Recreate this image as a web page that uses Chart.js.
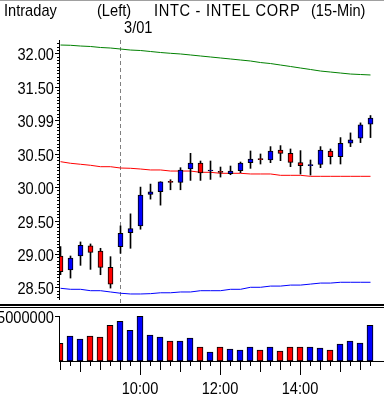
<!DOCTYPE html>
<html>
<head>
<meta charset="utf-8">
<script src="https://cdn.jsdelivr.net/npm/chart.js@4.4.1/dist/chart.umd.min.js"></script>
<style>
  html, body { margin: 0; padding: 0; background: #fff; }
  #wrap { position: relative; width: 384px; height: 397px; overflow: hidden; }
  #wrap canvas { position: absolute; left: 0; top: 0; }
</style>
</head>
<body>
<div id="wrap">
  <canvas id="js--price" width="384" height="397"></canvas>
  <canvas id="js--volume" width="384" height="397"></canvas>
</div>
<script>
// 15-min bars, last 6 of 2/28 then 3/01
const times = ['14:30','14:45','15:00','15:15','15:30','15:45',
  '9:30','9:45','10:00','10:15','10:30','10:45','11:00','11:15','11:30','11:45',
  '12:00','12:15','12:30','12:45','13:00','13:15','13:30','13:45',
  '14:00','14:15','14:30','14:45','15:00','15:15','15:30','15:45'];
const newDayIndex = 6;
const newDayLabel = '3/01';

const open  = [28.97, 28.76, 28.97, 29.12, 29.045, 28.80, 29.11, 29.32, 29.42, 29.89, 29.93, 30.075, 30.07, 30.27, 30.36, 30.24,
               30.225, 30.20, 30.245, 30.365, 30.415, 30.405, 30.555, 30.505, 30.365, 30.32, 30.34, 30.54, 30.455, 30.655, 30.73, 30.94];
const high  = [29.11, 28.97, 29.18, 29.15, 29.085, 28.96, 29.42, 29.60, 30.00, 30.045, 30.08, 30.11, 30.29, 30.505, 30.39, 30.39,
               30.30, 30.315, 30.375, 30.54, 30.495, 30.605, 30.62, 30.57, 30.545, 30.405, 30.605, 30.57, 30.74, 30.81, 30.96, 31.07];
const low   = [28.69, 28.64, 28.83, 28.77, 28.69, 28.49, 29.01, 29.085, 29.37, 29.82, 29.73, 29.96, 29.96, 30.10, 30.10, 30.115,
               30.15, 30.185, 30.215, 30.28, 30.345, 30.365, 30.395, 30.305, 30.195, 30.18, 30.29, 30.345, 30.345, 30.605, 30.665, 30.74];
const close = [28.735, 28.94, 29.13, 29.025, 28.80, 28.55, 29.31, 29.38, 29.88, 29.93, 30.08, 30.07, 30.255, 30.36, 30.21, 30.245,
               30.22, 30.24, 30.36, 30.42, 30.41, 30.54, 30.505, 30.37, 30.32, 30.325, 30.555, 30.455, 30.655, 30.705, 30.93, 31.03];

const volume = [1950000, 2760000, 2430000, 2760000, 2650000, 3970000, 4420000, 3420000, 4970000, 2870000, 2650000, 2210000,
                2210000, 2540000, 1550000, 990000, 1550000, 1320000, 1210000, 1550000, 1210000, 1550000, 1100000, 1550000,
                1550000, 1550000, 1430000, 1210000, 1880000, 2210000, 1990000, 3970000];

// bands
const upper  = [32.124, 32.12, 32.109, 32.102, 32.087, 32.079, 32.064, 32.049, 32.042, 32.027, 32.012, 32.00, 31.99, 31.975, 31.96, 31.945,
                31.93, 31.915, 31.90, 31.885, 31.862, 31.847, 31.825, 31.803, 31.78, 31.758, 31.735, 31.72, 31.705, 31.69, 31.683, 31.676];
const middle = [30.38, 30.356, 30.341, 30.326, 30.305, 30.305, 30.285, 30.281, 30.27, 30.256, 30.256, 30.24, 30.24, 30.24, 30.221, 30.221,
                30.206, 30.206, 30.206, 30.196, 30.196, 30.196, 30.176, 30.176, 30.176, 30.161, 30.161, 30.161, 30.161, 30.161, 30.161, 30.161];
const lower  = [28.487, 28.472, 28.472, 28.451, 28.451, 28.432, 28.413, 28.402, 28.402, 28.407, 28.42, 28.42, 28.432, 28.432, 28.451, 28.451,
                28.451, 28.472, 28.472, 28.502, 28.502, 28.52, 28.52, 28.535, 28.535, 28.55, 28.565, 28.565, 28.577, 28.577, 28.577, 28.577];

const priceTicks = [32.0, 31.5, 31.0, 30.5, 30.0, 29.5, 29.0, 28.5];
const priceTickLabels = ['32.00', '31.50', '30.99', '30.50', '30.00', '29.50', '29.00', '28.50'];
const volumeTicks = [5000000];
const volumeTickLabels = ['5000000'];

const FONT = "17px 'Liberation Sans', Arial, sans-serif";
const RED = '#ff0000', BLUE = '#0000ff', GREEN = '#008000';
const upColor = i => close[i] >= open[i] ? BLUE : RED;

// narrow text, like the terminal's font
function text(ctx, str, x, y, align, baseline, spacing) {
  ctx.save();
  ctx.font = FONT;
  ctx.fillStyle = '#000';
  ctx.textAlign = align || 'left';
  ctx.textBaseline = baseline || 'alphabetic';
  if (spacing) ctx.letterSpacing = spacing;
  ctx.translate(x, y);
  ctx.scale(0.86, 1);
  ctx.fillText(str, 0, 0);
  ctx.restore();
}

// 10px per bar, first bar sits on the axis
const priceX = { type: 'linear', min: -0.05, max: 32.35, offset: false, display: false, grid: { offset: false } };
const volumeX = { type: 'linear', min: 0, max: 32.4, offset: false, display: false, grid: { offset: false } };

//--------------------------------------------------
// price panel

const pricePanel = {
  id: 'pricePanel',
  beforeDatasetsDraw(chart) {
    const ctx = chart.ctx, x = chart.scales.x, a = chart.chartArea;
    ctx.save();
    ctx.strokeStyle = '#808080';
    ctx.lineWidth = 1;
    ctx.setLineDash([4, 3]);
    const px = Math.round(x.getPixelForValue(newDayIndex) - 0.5) + 0.5;
    ctx.beginPath();
    ctx.moveTo(px, a.top);
    ctx.lineTo(px, 303);
    ctx.stroke();
    ctx.restore();
  },
  afterDraw(chart) {
    const ctx = chart.ctx, y = chart.scales.y, x = chart.scales.x, a = chart.chartArea;
    ctx.save();
    ctx.fillStyle = '#a0a0a0';
    ctx.fillRect(0, 0, 384, 1);

    text(ctx, 'Intraday', 4, 16);
    text(ctx, '(Left)', 97, 16);
    text(ctx, 'INTC - INTEL CORP', 154, 16, 'left', 'alphabetic', '0.8px');
    text(ctx, '(15-Min)', 311, 16);
    text(ctx, newDayLabel, Math.round(x.getPixelForValue(newDayIndex)) + 3, 33);

    // axis line + ticks
    ctx.fillStyle = '#000';
    ctx.fillRect(59, a.top, 1, a.bottom - a.top);
    for (let k = Math.ceil(y.min / 0.05); k * 0.05 <= y.max; k++) {
      const py = Math.round(y.getPixelForValue(k * 0.05));
      if (py < a.top || py > a.bottom - 2) continue;
      ctx.fillRect(57, py, 2, 1);
    }
    priceTicks.forEach((v, i) => {
      const py = Math.round(y.getPixelForValue(v));
      ctx.fillRect(55, py, 5, 1);
      text(ctx, priceTickLabels[i], 54, py + 6.5, 'right');
    });

    // separator
    ctx.fillRect(0, 304, 384, 2);
    ctx.fillRect(0, 307, 384, 1);
    ctx.restore();
  }
};

new Chart(document.getElementById('js--price'), {
  type: 'bar',
  data: {
    datasets: [
      { type: 'line', data: times.map((t, i) => ({ x: i, y: upper[i] })), borderColor: GREEN, borderWidth: 1, pointRadius: 0, order: 5 },
      { type: 'line', data: times.map((t, i) => ({ x: i, y: middle[i] })), borderColor: RED, borderWidth: 1, pointRadius: 0, order: 5 },
      { type: 'line', data: times.map((t, i) => ({ x: i, y: lower[i] })), borderColor: BLUE, borderWidth: 1, pointRadius: 0, order: 5 },
      { data: times.map((t, i) => ({ x: i, y: [low[i], high[i]] })), backgroundColor: '#000', barThickness: 1, grouped: false, order: 3 },
      { data: times.map((t, i) => ({ x: i, y: [open[i], close[i]] })), backgroundColor: times.map((t, i) => upColor(i)),
        borderColor: '#000', borderWidth: 1, borderSkipped: false, barThickness: 5, minBarLength: 1, grouped: false, order: 2 }
    ]
  },
  options: {
    responsive: false,
    animation: false,
    devicePixelRatio: 1,
    layout: { padding: { top: 40, bottom: 97, left: 0, right: 0 } },
    plugins: { legend: { display: false }, tooltip: { enabled: false } },
    scales: {
      x: priceX,
      y: {
        min: 28.312, max: 32.199,
        grid: { display: false, drawTicks: false },
        border: { display: false },
        ticks: { display: false },
        afterBuildTicks: s => { s.ticks = priceTicks.map(v => ({ value: v })); },
        afterFit: s => { s.width = 60; }
      }
    }
  },
  plugins: [pricePanel]
});

//--------------------------------------------------
// volume panel

const volumePanel = {
  id: 'volumePanel',
  afterDraw(chart) {
    const ctx = chart.ctx, y = chart.scales.y, x = chart.scales.x, a = chart.chartArea;
    ctx.save();
    ctx.fillStyle = '#000';
    ctx.fillRect(59, a.top, 1, a.bottom - a.top);
    volumeTicks.forEach((v, i) => {
      const py = Math.round(y.getPixelForValue(v));
      ctx.fillRect(55, py, 5, 1);
      text(ctx, volumeTickLabels[i], 54, py + 6.5, 'right');
    });
    ctx.fillRect(59, a.bottom, 384 - 59, 1);
    times.forEach((t, i) => {
      const [h, m] = t.split(':').map(Number);
      let len = 5;
      if (m === 30) len = 9;
      if (m === 0) len = h % 2 === 0 ? 14 : 11;
      const px = Math.round(x.getPixelForValue(i));
      ctx.fillRect(px, a.bottom, 1, len);
      if (m === 0 && h % 2 === 0) text(ctx, t, px, 394, 'center');
    });
    ctx.restore();
  }
};

new Chart(document.getElementById('js--volume'), {
  type: 'bar',
  data: {
    datasets: [{
      data: times.map((t, i) => ({ x: i, y: volume[i] })),
      backgroundColor: times.map((t, i) => upColor(i)),
      borderColor: '#000', borderWidth: 1, borderSkipped: false, barThickness: 6
    }]
  },
  options: {
    responsive: false,
    animation: false,
    devicePixelRatio: 1,
    layout: { padding: { top: 316, bottom: 36, left: 0, right: 0 } },
    plugins: { legend: { display: false }, tooltip: { enabled: false } },
    scales: {
      x: volumeX,
      y: {
        min: 0, max: 5000000,
        grid: { display: false, drawTicks: false },
        border: { display: false },
        ticks: { display: false },
        afterBuildTicks: s => { s.ticks = volumeTicks.map(v => ({ value: v })); },
        afterFit: s => { s.width = 60; }
      }
    }
  },
  plugins: [volumePanel]
});
</script>
</body>
</html>
